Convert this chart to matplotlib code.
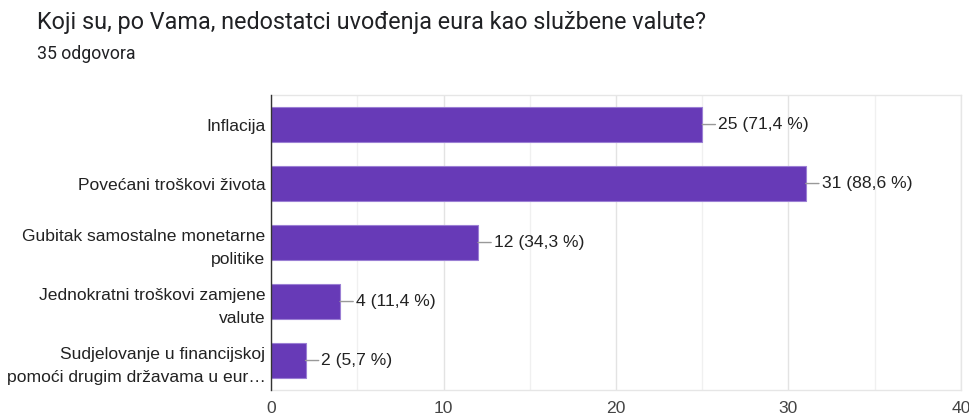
import matplotlib.pyplot as plt
from matplotlib.ticker import MultipleLocator

categories = [
    "Inflacija",
    "Povećani troškovi života",
    "Gubitak samostalne monetarne\npolitike",
    "Jednokratni troškovi zamjene\nvalute",
    "Sudjelovanje u financijskoj\npomoći drugim državama u eur…",
]
counts = [25, 31, 12, 4, 2]
percents = ["71,4", "88,6", "34,3", "11,4", "5,7"]
x_ticks = [0, 10, 20, 30, 40]

plt.rcParams['font.family'] = ['Liberation Sans', 'DejaVu Sans']

fig = plt.figure(figsize=(9.7, 4.17), dpi=100)
ax = fig.add_axes([0.2794, 0.0647, 0.7113, 0.7074])

ypos = list(range(len(categories)))
ax.barh(ypos, counts, height=0.6, color='#673ab7', edgecolor='#9b7fd4',
        linewidth=0.8, zorder=3)

for y, c, p in zip(ypos, counts, percents):
    ax.annotate(f"{c} ({p} %)", xy=(c, y), xytext=(11.5, 0),
                textcoords='offset points', va='center', ha='left',
                fontsize=12.6, color='#222222',
                arrowprops=dict(arrowstyle='-', color='#999999', lw=1,
                                shrinkA=0, shrinkB=0))

ax.set_xlim(0, 40)
ax.set_ylim(len(categories) - 0.5, -0.5)
ax.set_yticks(ypos)
ax.set_yticklabels(categories, fontsize=12.6, color='#222222', linespacing=1.7)
ax.set_xticks(x_ticks)
ax.set_xticklabels([str(t) for t in x_ticks], fontsize=12.6, color='#444444')
ax.xaxis.set_minor_locator(MultipleLocator(5))
ax.tick_params(axis='both', which='both', length=0)
ax.tick_params(axis='y', pad=4)
ax.tick_params(axis='x', pad=8)

ax.grid(axis='x', which='major', color='#e3e3e3', linewidth=1, zorder=0)
ax.grid(axis='x', which='minor', color='#f0f0f0', linewidth=1, zorder=0)
ax.set_axisbelow(True)

for side in ['top', 'right', 'bottom']:
    ax.spines[side].set_color('#e6e6e6')
    ax.spines[side].set_linewidth(1)
ax.spines['left'].set_color('#333333')
ax.spines['left'].set_linewidth(1)
ax.spines['left'].set_zorder(4)

fig.text(37 / 970, 1 - 22 / 417, "Koji su, po Vama, nedostatci uvođenja eura kao službene valute?",
         fontsize=16.8, color='#202124', ha='left', va='center', family=['Roboto', 'DejaVu Sans'])
fig.text(37 / 970, 1 - 54 / 417, "35 odgovora", fontsize=12.8, color='#202124',
         ha='left', va='center', family=['Roboto', 'DejaVu Sans'])

fig.savefig("out.png", dpi=100, facecolor='white')
